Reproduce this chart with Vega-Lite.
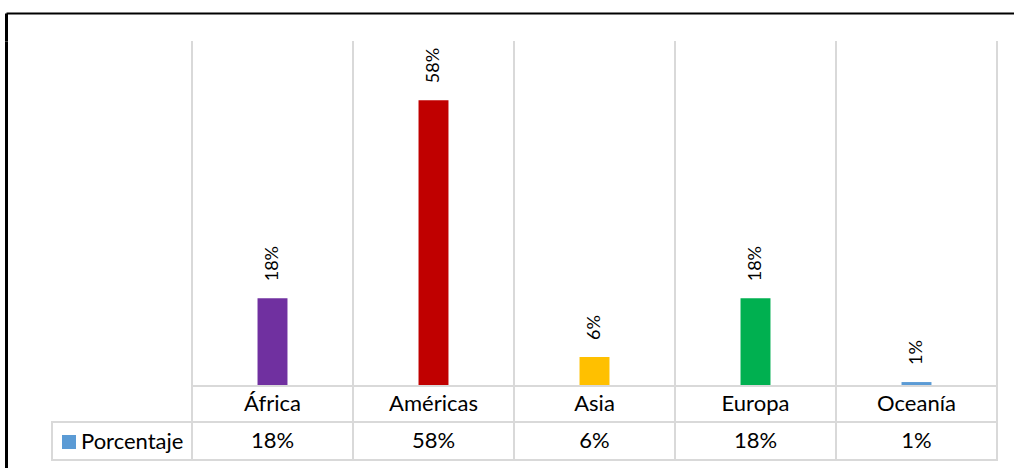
{
  "$schema": "https://vega.github.io/schema/vega-lite/v6.json",
  "padding": {"left": 6, "top": 13, "right": 0, "bottom": 0},
  "background": "white",
  "config": {"view": {"stroke": null}, "concat": {"spacing": 0}},
  "datasets": {
    "regiones": [
      {"region": "África", "porcentaje": 0.178},
      {"region": "Américas", "porcentaje": 0.58},
      {"region": "Asia", "porcentaje": 0.059},
      {"region": "Europa", "porcentaje": 0.178},
      {"region": "Oceanía", "porcentaje": 0.008}
    ],
    "vacio": [{}],
    "serie": [{"serie": "Porcentaje"}]
  },
  "spacing": 0,
  "bounds": "flush",
  "resolve": {"scale": {"fill": "independent", "color": "independent"}, "legend": {"fill": "independent", "color": "independent"}},
  "vconcat": [
    {
      "width": 1008, "height": 28,
      "data": {"name": "vacio"},
      "mark": {"type": "text", "fontSize": 0},
      "encoding": {
        "text": {"value": ""},
        "x": {"datum": 0, "type": "quantitative", "axis": {"orient": "top", "domain": true, "domainColor": "#000000", "domainWidth": 2, "labels": false, "ticks": false, "grid": false, "title": null}},
        "y": {"datum": 0, "type": "quantitative", "axis": {"orient": "left", "domain": true, "domainColor": "#000000", "domainWidth": 3, "labels": false, "ticks": false, "grid": false, "title": null}}
      }
    },
    {
      "spacing": 0,
      "bounds": "flush",
      "resolve": {"scale": {"fill": "independent", "color": "independent"}, "legend": {"fill": "independent", "color": "independent"}},
      "hconcat": [
        {
          "width": 46, "height": 427,
          "data": {"name": "vacio"},
          "mark": {"type": "text", "fontSize": 0},
          "encoding": {
            "text": {"value": ""},
            "y": {"datum": 0, "type": "quantitative", "axis": {"orient": "left", "domain": true, "domainColor": "#000000", "domainWidth": 3, "labels": false, "ticks": false, "grid": false, "title": null}}
          }
        },
        {
          "columns": 2,
          "spacing": 0,
          "bounds": "flush",
          "align": "each",
          "resolve": {"scale": {"fill": "independent", "color": "independent"}, "legend": {"fill": "independent", "color": "independent"}},
          "concat": [
            {
              "width": 140, "height": 345,
              "data": {"name": "vacio"},
              "mark": {"type": "text", "fontSize": 0},
              "encoding": {"text": {"value": ""}}
            },
            {
              "width": 805, "height": 345,
              "data": {"name": "regiones"},
              "encoding": {
                "x": {"field": "region", "type": "nominal", "sort": null, "scale": {"paddingInner": 0, "paddingOuter": 0}, "axis": null}
              },
              "layer": [
                {
                  "mark": {"type": "rule", "color": "#D9D9D9", "strokeWidth": 2},
                  "encoding": {"x": {"field": "region", "type": "nominal", "sort": null, "bandPosition": 0}}
                },
                {
                  "mark": {"type": "rule", "color": "#D9D9D9", "strokeWidth": 2},
                  "encoding": {"x": {"field": "region", "type": "nominal", "sort": null, "bandPosition": 1}}
                },
                {
                  "mark": {"type": "bar", "width": {"band": 0.186}},
                  "encoding": {
                    "y": {"field": "porcentaje", "type": "quantitative", "scale": {"domain": [0, 0.7], "nice": false}, "axis": null},
                    "color": {"field": "region", "type": "nominal", "scale": {"domain": ["África", "Américas", "Asia", "Europa", "Oceanía"], "range": ["#7030A0", "#C00000", "#FFC000", "#00B050", "#5B9BD5"]}, "legend": null}
                  }
                },
                {
                  "mark": {"type": "text", "angle": 270, "align": "left", "baseline": "middle", "dx": 17, "font": "Lato", "fontSize": 18, "color": "#000000"},
                  "encoding": {
                    "y": {"field": "porcentaje", "type": "quantitative"},
                    "text": {"field": "porcentaje", "type": "quantitative", "format": ".0%"}
                  }
                }
              ]
            },
            {
              "width": 140, "height": 36,
              "data": {"name": "vacio"},
              "mark": {"type": "text", "fontSize": 0},
              "encoding": {"text": {"value": ""}}
            },
            {
              "width": 805, "height": 36,
              "view": {"stroke": "#D9D9D9", "strokeWidth": 2},
              "data": {"name": "regiones"},
              "encoding": {
                "x": {"field": "region", "type": "nominal", "sort": null, "scale": {"paddingInner": 0, "paddingOuter": 0}, "axis": null}
              },
              "layer": [
                {
                  "mark": {"type": "rule", "color": "#D9D9D9", "strokeWidth": 2},
                  "encoding": {"x": {"field": "region", "type": "nominal", "sort": null, "bandPosition": 0}}
                },
                {
                  "mark": {"type": "text", "font": "Lato", "fontSize": 22, "color": "#000000", "baseline": "middle"},
                  "encoding": {"text": {"field": "region", "type": "nominal"}}
                }
              ]
            },
            {
              "width": 140, "height": 38,
              "view": {"stroke": "#D9D9D9", "strokeWidth": 2},
              "data": {"name": "serie"},
              "mark": {"type": "text", "fontSize": 0},
              "encoding": {
                "text": {"value": ""},
                "fill": {"field": "serie", "type": "nominal", "scale": {"range": ["#5B9BD5"]},
                  "legend": {"orient": "none", "legendX": 6, "legendY": 9, "title": null, "symbolType": "square", "symbolSize": 196, "symbolStrokeWidth": 0, "labelFont": "Lato", "labelFontSize": 22, "labelColor": "#000000", "labelOffset": 1, "padding": 0}}
              }
            },
            {
              "width": 805, "height": 38,
              "view": {"stroke": "#D9D9D9", "strokeWidth": 2},
              "data": {"name": "regiones"},
              "encoding": {
                "x": {"field": "region", "type": "nominal", "sort": null, "scale": {"paddingInner": 0, "paddingOuter": 0}, "axis": null}
              },
              "layer": [
                {
                  "mark": {"type": "rule", "color": "#D9D9D9", "strokeWidth": 2},
                  "encoding": {"x": {"field": "region", "type": "nominal", "sort": null, "bandPosition": 0}}
                },
                {
                  "mark": {"type": "text", "font": "Lato", "fontSize": 22, "color": "#000000", "baseline": "middle"},
                  "encoding": {"text": {"field": "porcentaje", "type": "quantitative", "format": ".0%"}}
                }
              ]
            }
          ]
        }
      ]
    }
  ]
}
